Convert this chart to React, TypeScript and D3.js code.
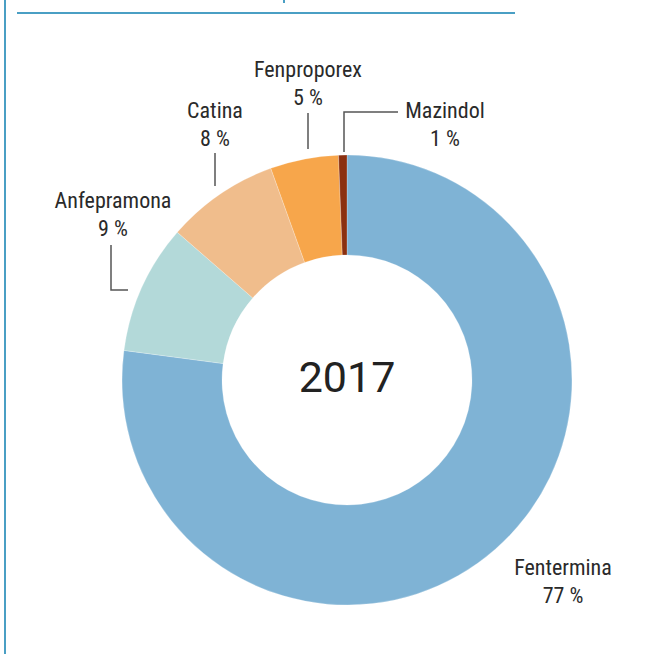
import React from "react";
import * as d3 from "d3";

const categories = ["Fentermina", "Anfepramona", "Catina", "Fenproporex", "Mazindol"];
const values = [77.1, 9.3, 8.1, 4.9, 0.6];
const labels = ["77 %", "9 %", "8 %", "5 %", "1 %"];
const colors = ["#7fb3d5", "#b3d9d9", "#f0bd8c", "#f7a64b", "#8b3010"];
const centerLabel = "2017";

const W = 665, H = 654;
const cx = 347, cy = 380, R = 225, r = 125;
const FONT = "'Roboto Condensed','Liberation Sans Narrow','DejaVu Sans Condensed',sans-serif";

const labelPos: Record<string, { x: number; y: number }> = {
  Fentermina: { x: 563, y: 575 },
  Anfepramona: { x: 113, y: 208 },
  Catina: { x: 215, y: 118 },
  Fenproporex: { x: 308, y: 77 },
  Mazindol: { x: 445, y: 118 },
};

const leaders: Record<string, [number, number][]> = {
  Anfepramona: [[111, 245], [111, 290], [128, 290]],
  Catina: [[215, 153], [215, 186]],
  Fenproporex: [[308, 113], [308, 149]],
  Mazindol: [[344, 152], [344, 112], [398, 112]],
};

export default function App() {
  const pie = d3.pie<number>().sort(null).value((d) => d)(values);
  const arc = d3.arc<d3.PieArcDatum<number>>().innerRadius(r).outerRadius(R);
  const line = d3.line();
  return (
    <svg width={W} height={H} style={{ position: "absolute", left: 0, top: 0, background: "#fff" }}>
      <line x1={5} y1={0} x2={5} y2={H} stroke="#4a9fc4" strokeWidth={2} />
      <line x1={17} y1={13} x2={515} y2={13} stroke="#4a9fc4" strokeWidth={2} />
      <rect x={283} y={0} width={2} height={3} fill="#4a9fc4" />
      <g transform={`translate(${cx},${cy})`}>
        {pie.map((p, i) => (
          <path key={categories[i]} d={arc(p) || ""} fill={colors[i]} stroke="#ffffff" strokeOpacity={0.4} strokeWidth={0.6} />
        ))}
      </g>
      <text x={cx} y={cy + 12} textAnchor="middle" fontFamily="Roboto, 'Liberation Sans', sans-serif" fontSize={43} fill="#222">
        {centerLabel}
      </text>
      {categories.map((c) =>
        leaders[c] ? (
          <path key={"l" + c} d={line(leaders[c]) || ""} fill="none" stroke="#555" strokeWidth={1.5} />
        ) : null
      )}
      {categories.map((c, i) => (
        <text key={"t" + c} textAnchor="middle" fontFamily={FONT} fontSize={22} fill="#2a2a2a">
          <tspan x={labelPos[c].x} y={labelPos[c].y}>{c}</tspan>
          <tspan x={labelPos[c].x} y={labelPos[c].y + 28}>{labels[i]}</tspan>
        </text>
      ))}
    </svg>
  );
}
